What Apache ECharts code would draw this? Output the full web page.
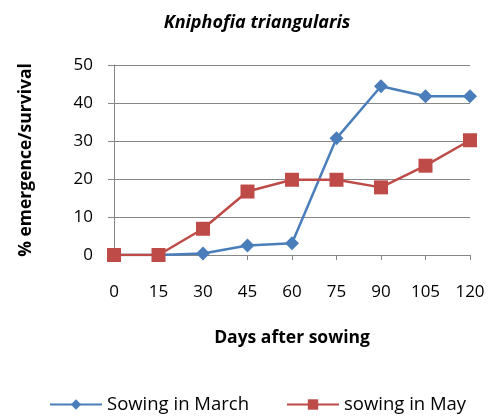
<!DOCTYPE html>
<html>
<head>
	<meta charset="utf-8">
	<title>Kniphofia triangularis</title>
	<style>
		html, body { margin: 0; padding: 0; background: #fff; }
		#chart { width: 492px; height: 419px; }
	</style>
</head>
<body>
	<div id="chart"></div>
	<script src="https://cdn.jsdelivr.net/npm/echarts@6/dist/echarts.min.js"></script>
	<script>
		// days after sowing (x axis)
		var days = [0, 15, 30, 45, 60, 75, 90, 105, 120];
		// % emergence/survival
		var march = [0, 0, 0.4, 2.5, 3.1, 30.7, 44.4, 41.8, 41.8];
		var may = [0, 0, 6.9, 16.7, 19.8, 19.8, 17.8, 23.5, 30.2];
		var seriesNames = ['Sowing in March', 'sowing in May'];

		var FONT = '"Open Sans", "Liberation Sans", sans-serif';
		var grey = '#868686';

		function pairs(ys) {
			var out = [];
			for (var i = 0; i < days.length; i++) out.push([days[i], ys[i]]);
			return out;
		}

		var myChart = echarts.init(document.getElementById('chart'));
		var option = {
			animation: false,
			title: {
				text: 'Kniphofia triangularis',
				left: 252,
				textAlign: 'center',
				top: 9,
				textStyle: { fontFamily: FONT, fontSize: 18, fontWeight: 'bold', fontStyle: 'italic', color: '#000' }
			},
			legend: {
				data: seriesNames,
				left: 44,
				top: 390,
				itemWidth: 52,
				itemHeight: 13,
				itemGap: 37,
				textStyle: { fontFamily: FONT, fontSize: 18.5, color: '#000' }
			},
			grid: { left: 114, right: 22, top: 65, bottom: 164 },
			xAxis: {
				type: 'value',
				min: 0,
				max: 120,
				interval: 15,
				name: 'Days after sowing',
				nameLocation: 'middle',
				nameGap: 74,
				nameTextStyle: { fontFamily: FONT, fontSize: 17.5, fontWeight: 'bold', color: '#000' },
				axisLine: { show: true, lineStyle: { color: grey, width: 1 } },
				axisTick: { show: true, length: 5, lineStyle: { color: grey } },
				axisLabel: { margin: 29, fontFamily: FONT, fontSize: 17, color: '#000' },
				splitLine: { show: false }
			},
			yAxis: {
				type: 'value',
				min: 0,
				max: 50,
				interval: 10,
				name: '% emergence/survival',
				nameLocation: 'middle',
				nameGap: 79,
				nameTextStyle: { fontFamily: FONT, fontSize: 17.5, fontWeight: 'bold', color: '#000' },
				axisLine: { show: true, lineStyle: { color: grey, width: 1 } },
				axisTick: { show: true, length: 6, lineStyle: { color: grey } },
				axisLabel: { margin: 21, fontFamily: FONT, fontSize: 17, color: '#000' },
				splitLine: { show: true, lineStyle: { color: grey, width: 1 } }
			},
			series: [{
				name: seriesNames[0],
				type: 'line',
				data: pairs(march),
				symbol: 'diamond',
				symbolSize: 14,
				lineStyle: { color: '#4a7ebb', width: 2.5 },
				itemStyle: { color: '#4a7ebb' },
				z: 2
			}, {
				name: seriesNames[1],
				type: 'line',
				data: pairs(may),
				symbol: 'rect',
				symbolSize: 14,
				lineStyle: { color: '#be4b48', width: 2.5 },
				itemStyle: { color: '#be4b48' },
				z: 3
			}]
		};
		myChart.setOption(option);
	</script>
</body>
</html>
